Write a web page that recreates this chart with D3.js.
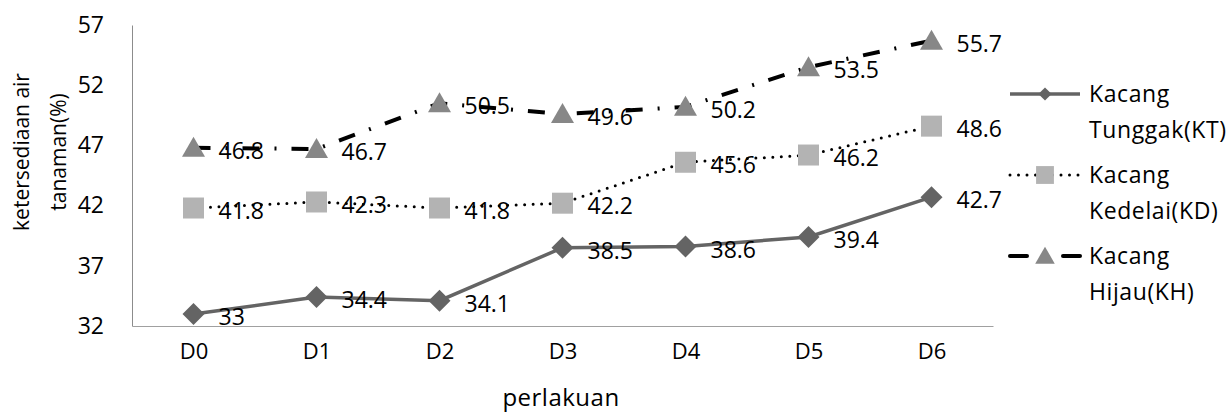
<!DOCTYPE html>
<html><head><meta charset="utf-8">
<script src="https://cdn.jsdelivr.net/npm/d3@7"></script>
<style>
html,body{margin:0;padding:0;background:#fff;}
svg{display:block;font-family:"Open Sans",sans-serif;}
</style></head>
<body>
<svg id="chart" width="1228" height="412"></svg>
<script>
const categories = ["D0","D1","D2","D3","D4","D5","D6"];
const kacangTunggak = [33, 34.4, 34.1, 38.5, 38.6, 39.4, 42.7];
const kacangKedelai = [41.8, 42.3, 41.8, 42.2, 45.6, 46.2, 48.6];
const kacangHijau = [46.8, 46.7, 50.5, 49.6, 50.2, 53.5, 55.7];
const yTicks = [32, 37, 42, 47, 52, 57];
const seriesNames = [["Kacang","Tunggak(KT)"],["Kacang","Kedelai(KD)"],["Kacang","Hijau(KH)"]];

const svg = d3.select("#chart");
const x = d3.scalePoint().domain(categories).range([132, 993]).padding(0.5);
const y = d3.scaleLinear().domain([32, 57]).range([326, 25]);

const series = [
  {vals: kacangTunggak, name: seriesNames[0], line: "#646464", lw: 3.5, dash: null, cap: "butt", marker: "diamond", mcol: "#646464"},
  {vals: kacangKedelai, name: seriesNames[1], line: "#000", lw: 3, dash: "0,8.5", cap: "round", marker: "square", mcol: "#b3b3b3"},
  {vals: kacangHijau, name: seriesNames[2], line: "#000", lw: 4, dash: "17,15,2,15", cap: "butt", marker: "triangle", mcol: "#878787"}
];

// axes
const yAxis = d3.axisLeft(y).tickValues(yTicks).tickSize(0).tickPadding(28);
const gy = svg.append("g").attr("transform","translate(132,0)").call(yAxis);
gy.select(".domain").attr("stroke","#8c8c8c");
gy.selectAll("text").attr("font-size", 23).attr("fill","#000").attr("font-family","Open Sans");

const xAxis = d3.axisBottom(x).tickSize(0).tickPadding(17);
const gx = svg.append("g").attr("transform","translate(0,326)").call(xAxis);
gx.select(".domain").attr("stroke","#a0a0a0");
gx.selectAll("text").attr("font-size", 22).attr("fill","#000").attr("font-family","Open Sans");

// axis titles
svg.append("text").attr("x", 561).attr("y", 406).attr("text-anchor","middle")
  .attr("font-size", 24).attr("letter-spacing", 0.5).text("perlakuan");
const yt = svg.append("text").attr("transform","translate(0,152) rotate(-90)")
  .attr("text-anchor","middle").attr("font-size", 21);
yt.append("tspan").attr("x",0).attr("y",29).text("ketersediaan air");
yt.append("tspan").attr("x",0).attr("y",66).text("tanaman(%)");

function markerPath(type){
  if(type==="diamond") return "M0,-11L11,0L0,11L-11,0Z";
  if(type==="square") return "M-10.5,-10.5H10.5V10.5H-10.5Z";
  return "M0,-11L11.5,9L-11.5,9Z";
}

const line = d3.line().x((d,i)=>x(categories[i])).y(d=>y(d));
series.forEach(s=>{
  const g = svg.append("g");
  g.append("path").datum(s.vals).attr("d", line).attr("fill","none")
    .attr("stroke", s.line).attr("stroke-width", s.lw)
    .attr("stroke-dasharray", s.dash).attr("stroke-linecap", s.cap);
  g.selectAll("path.m").data(s.vals).enter().append("path").attr("class","m")
    .attr("transform",(d,i)=>`translate(${x(categories[i])},${y(d)})`)
    .attr("d", markerPath(s.marker)).attr("fill", s.mcol);
});
// data labels
series.forEach(s=>{
  svg.append("g").selectAll("text").data(s.vals).enter().append("text")
    .attr("x",(d,i)=>x(categories[i])+25)
    .attr("y",d=>y(d)+3).attr("dy","0.35em")
    .attr("font-size", 23).attr("fill","#000").text(d=>d);
});

// legend
const legY = [94, 175, 256];
series.forEach((s,k)=>{
  const g = svg.append("g").attr("transform",`translate(0,${legY[k]})`);
  if(s.marker==="triangle"){
    g.append("line").attr("x1",1010).attr("x2",1027).attr("stroke","#000").attr("stroke-width",4).attr("stroke-linecap","round");
    g.append("line").attr("x1",1063).attr("x2",1080).attr("stroke","#000").attr("stroke-width",4).attr("stroke-linecap","round");
  } else {
    g.append("line").attr("x1",1010).attr("x2",1080).attr("stroke", s.line).attr("stroke-width", s.lw)
      .attr("stroke-dasharray", s.dash).attr("stroke-linecap", s.cap);
  }
  g.append("path").attr("d", markerPath(s.marker)).attr("fill", s.mcol)
    .attr("transform", s.marker==="diamond" ? "translate(1045,0) scale(0.6)" : "translate(1045,0) scale(0.85)");
  const t = g.append("text").attr("font-size", 23).attr("fill","#000").attr("letter-spacing", 0.6);
  t.append("tspan").attr("x",1089).attr("y",0).attr("dy","0.35em").text(s.name[0]);
  t.append("tspan").attr("x",1089).attr("y",36).attr("dy","0.35em").text(s.name[1]);
});
</script>
</body></html>
